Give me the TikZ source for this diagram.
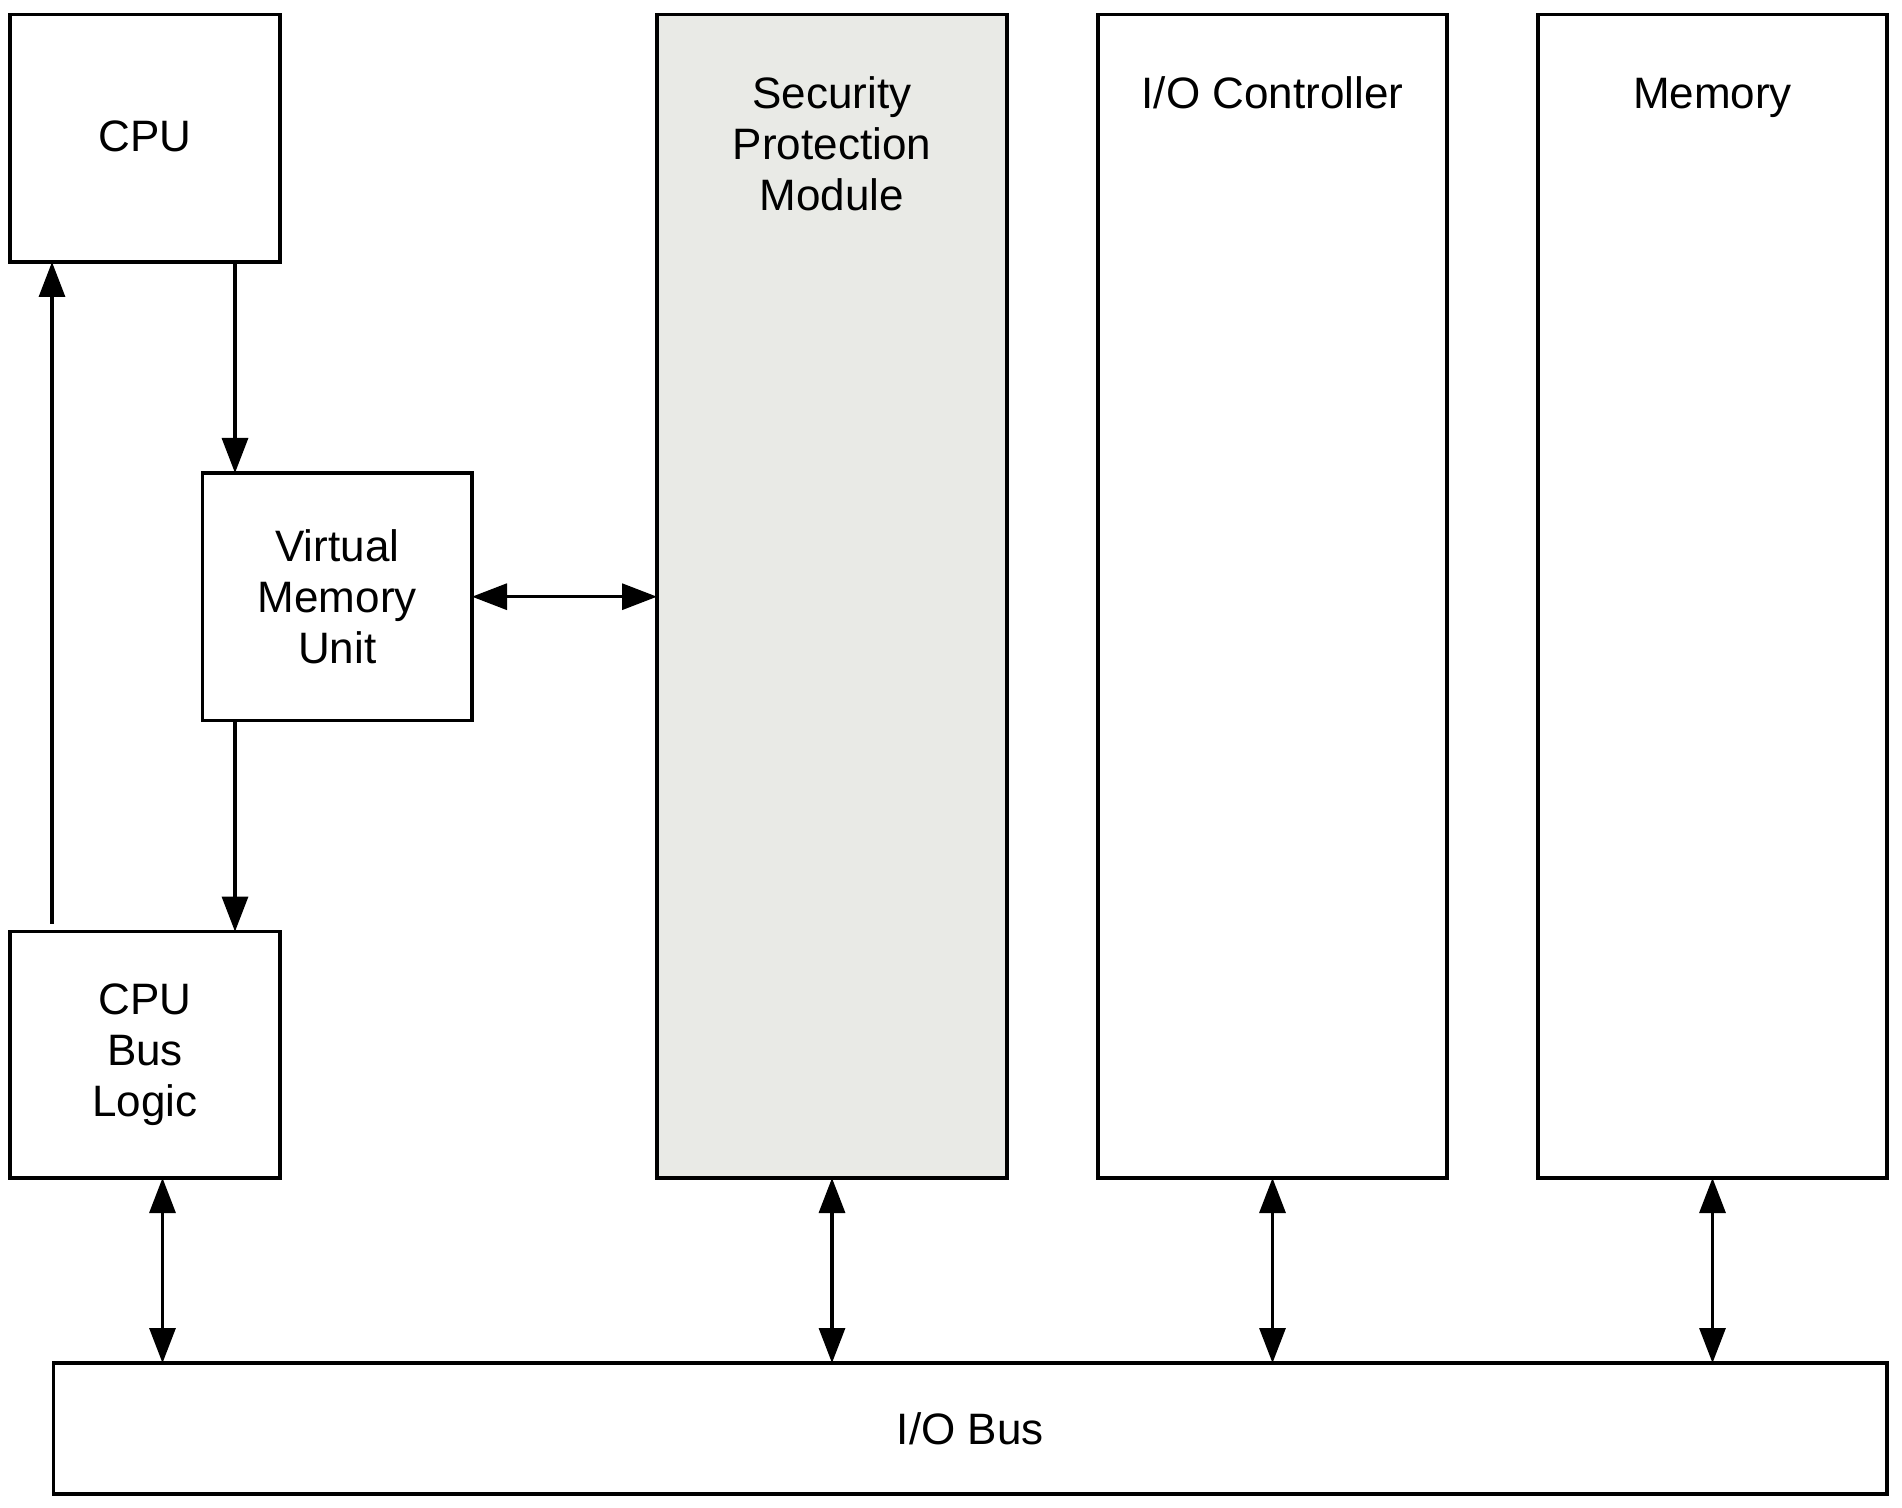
\documentclass[tikz,border=0pt]{standalone}
\usepackage{fontspec}
\setmainfont{Liberation Sans}
\usetikzlibrary{arrows.meta}
\definecolor{spmgray}{RGB}{233,234,230}
\begin{document}
\begin{tikzpicture}[x=0.5pt,y=-0.5pt,
  box/.style={draw=black, line width=1.75pt, rectangle, inner sep=0pt, outer sep=0pt, anchor=north west, fill=white},
  lab/.style={align=center, font=\fontsize{22}{25.5}\selectfont, inner sep=0pt},
  arr/.style={line width=1.6pt, -{Triangle[length=17.5pt,width=13pt]}},
  darr/.style={line width=1.6pt, {Triangle[length=17.5pt,width=13pt]}-{Triangle[length=17.5pt,width=13pt]}}]
\useasboundingbox (0,0) rectangle (1902,1508);
\fill[white] (0,0) rectangle (1902,1508);
% boxes
\node[box, minimum width=135pt, minimum height=123.7pt] (cpu) at (10,14.6) {};
\node[box, minimum width=134.7pt, minimum height=123.7pt] (vmu) at (202.6,473) {};
\node[box, minimum width=135pt, minimum height=123.2pt] (cbl) at (10,931.6) {};
\node[box, fill=spmgray, minimum width=175pt, minimum height=581.7pt] (spm) at (657,14.6) {};
\node[box, minimum width=174.5pt, minimum height=581.7pt] (ioc) at (1098,14.6) {};
\node[box, minimum width=174.5pt, minimum height=581.7pt] (mem) at (1538,14.6) {};
\node[box, minimum width=916.8pt, minimum height=65.5pt] (bus) at (53.4,1363) {};
% labels
\node[lab] (cpulab) at ([yshift=1pt]cpu.center) {CPU};
\node[lab] (vmulab) at (vmu.center) {Virtual\\Memory\\Unit};
\node[lab] (cbllab) at (cbl.center) {CPU\\Bus\\Logic};
\node[lab] (spmlab) at (832,144) {Security\\Protection\\Module};
\node[lab, anchor=base] (ioclab) at (1272.5,109) {I/O Controller};
\node[lab, anchor=base] (memlab) at (1712.5,109) {Memory};
\node[lab] (buslab) at (bus.center) {I/O Bus};
% connector columns
\coordinate (c0) at (52,0);
\coordinate (c1) at (235,0);
\coordinate (c2) at (162.5,0);
% connectors
\draw[arr] (cpu.south -| c1) -- (vmu.north -| c1);
\draw[arr] (vmu.south -| c1) -- (cbl.north -| c1);
\draw[arr] ([yshift=4pt]cbl.north -| c0) -- (cpu.south -| c0);
\draw[darr] (vmu.east) -- (spm.west |- vmu.east);
\draw[darr] (cbl.south -| c2) -- (bus.north -| c2);
\draw[darr] (spm.south) -- (spm.south |- bus.north);
\draw[darr] (ioc.south) -- (ioc.south |- bus.north);
\draw[darr] (mem.south) -- (mem.south |- bus.north);
\end{tikzpicture}
\end{document}
